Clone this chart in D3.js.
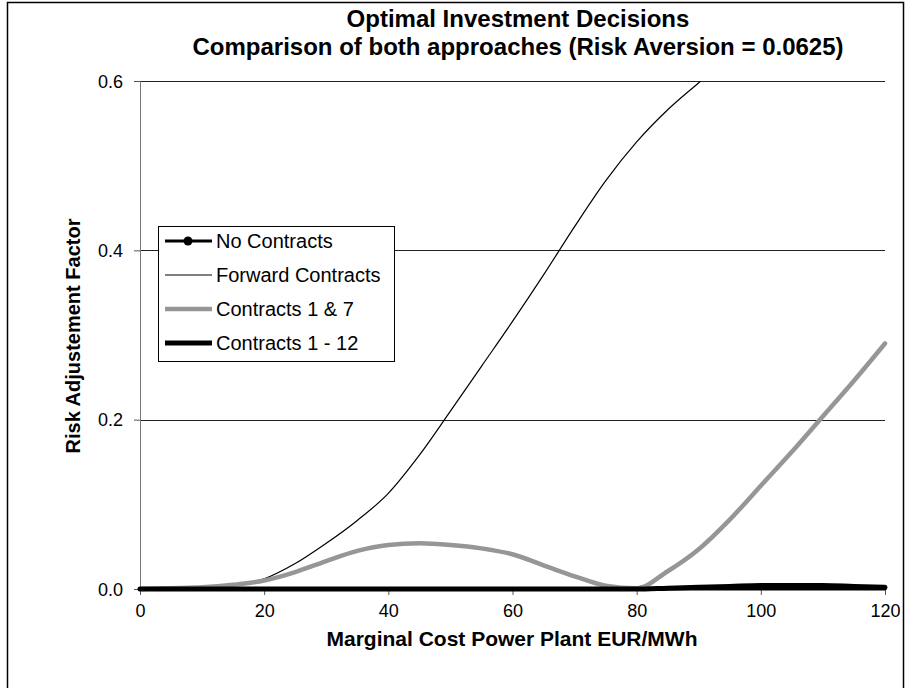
<!DOCTYPE html>
<html>
<head>
<meta charset="utf-8">
<script src="https://cdn.jsdelivr.net/npm/d3@7"></script>
<style>
body { margin: 0; background: #fff; }
text { font-family: "Liberation Sans", Arial, sans-serif; }
</style>
</head>
<body>
<svg id="chart" width="906" height="688"></svg>
<script>
// marginal cost (EUR/MWh)
var costs = [0, 5, 10, 15, 20, 25, 30, 35, 40, 45, 50, 55, 60, 65, 70, 75, 80, 85, 90, 95, 100, 105, 110, 115, 120];

var noContracts = [0, 0, 0, 0, 0, 0, 0, 0, 0, 0, 0, 0, 0, 0, 0, 0, 0, 0, 0, 0, 0, 0, 0, 0, 0];
// forward contracts leaves the chart above 0.6, only the visible part is kept
var forwardCosts = [0, 5, 10, 15, 20, 25, 30, 35, 40, 45, 50, 55, 60, 65, 70, 75, 80, 85, 90, 95];
var forward = [0, 0, 0.001, 0.004, 0.012, 0.03, 0.054, 0.081, 0.113, 0.158, 0.21, 0.263, 0.316, 0.371, 0.428, 0.482, 0.528, 0.566, 0.598, 0.63];
var contracts17 = [0, 0.001, 0.002, 0.005, 0.01, 0.02, 0.033, 0.045, 0.052, 0.054, 0.052, 0.048, 0.041, 0.028, 0.015, 0.004, 0.001, 0.021, 0.047, 0.082, 0.122, 0.162, 0.204, 0.246, 0.29];
var contracts112 = [0, 0, 0, 0, 0, 0, 0, 0, 0, 0, 0, 0, 0, 0, 0, 0, 0, 0.001, 0.002, 0.003, 0.004, 0.004, 0.004, 0.003, 0.002];

var xTicks = [0, 20, 40, 60, 80, 100, 120];
var yTicks = [0, 0.2, 0.4, 0.6];

var series = [
	{name: "No Contracts", xs: costs, ys: noContracts, color: "#000", width: 3, dot: true},
	{name: "Forward Contracts", xs: forwardCosts, ys: forward, color: "#000", width: 1.2, dot: false},
	{name: "Contracts 1 & 7", xs: costs, ys: contracts17, color: "#969696", width: 4.5, dot: false},
	{name: "Contracts 1 - 12", xs: costs, ys: contracts112, color: "#000", width: 5, dot: false}
];

var svg = d3.select("#chart");
var margin = {top: 81, right: 21, bottom: 99, left: 140};
var innerWidth = svg.attr("width") - margin.left - margin.right;
var innerHeight = svg.attr("height") - margin.top - margin.bottom;

// outer frame
svg.append("rect")
	.attr("x", 7.5).attr("y", 2.5)
	.attr("width", 896).attr("height", 700)
	.attr("fill", "none").attr("stroke", "#000").attr("stroke-width", 1.5);

var x = d3.scaleLinear().domain([0, 120]).range([0, innerWidth]);
var y = d3.scaleLinear().domain([0, 0.6]).range([innerHeight, 0]);

var g = svg.append("g")
	.attr("transform", `translate(${margin.left}, ${margin.top})`);

// gridlines
g.append("g")
	.selectAll("line")
	.data(yTicks.filter(d => d > 0))
	.enter().append("line")
	.attr("x1", 0).attr("x2", innerWidth)
	.attr("y1", d => Math.round(y(d)) + 0.5).attr("y2", d => Math.round(y(d)) + 0.5)
	.attr("stroke", "#222").attr("stroke-width", 1);

// axes
var yAxis = g.append("g")
	.call(d3.axisLeft(y).tickValues(yTicks).tickFormat(d3.format(".1f")).tickSize(6).tickPadding(11));
var xAxis = g.append("g")
	.attr("transform", "translate(0," + innerHeight + ")")
	.call(d3.axisBottom(x).tickValues(xTicks).tickSize(6).tickPadding(9));

[xAxis, yAxis].forEach(function(a) {
	a.select(".domain").attr("stroke", "#777");
	a.selectAll(".tick line").attr("stroke", "#555");
	a.selectAll(".tick text")
		.attr("fill", "#000")
		.style("font-size", "18px")
		.style("font-family", "Liberation Sans, Arial, sans-serif");
});
yAxis.selectAll(".tick text").attr("dy", "0.35em");

// clip lines to the plot area
svg.append("clipPath").attr("id", "plot-clip")
	.append("rect")
	.attr("x", -5).attr("y", 0)
	.attr("width", innerWidth + 10).attr("height", innerHeight + 10);

var line = d3.line()
	.x(d => x(d[0]))
	.y(d => y(d[1]))
	.curve(d3.curveMonotoneX);

var lines = g.append("g").attr("clip-path", "url(#plot-clip)");

series.forEach(function(s) {
	var pts = s.xs.map((c, i) => [c, s.ys[i]]);
	lines.append("path")
		.datum(pts)
		.attr("fill", "none")
		.attr("stroke", s.color)
		.attr("stroke-width", s.width)
		.attr("stroke-linejoin", "round")
		.attr("stroke-linecap", "round")
		.attr("d", line);
});

// title
var title = svg.append("text")
	.attr("text-anchor", "middle")
	.style("font-size", "24px")
	.style("font-weight", "bold");
title.append("tspan").attr("x", 518).attr("y", 27).text("Optimal Investment Decisions");
title.append("tspan").attr("x", 518).attr("y", 55).text("Comparison of both approaches (Risk Aversion = 0.0625)");

// axis titles
svg.append("text")
	.attr("x", 512).attr("y", 646)
	.attr("text-anchor", "middle")
	.style("font-size", "21px")
	.style("font-weight", "bold")
	.text("Marginal Cost Power Plant EUR/MWh");

svg.append("text")
	.attr("transform", "translate(80,336) rotate(-90)")
	.attr("text-anchor", "middle")
	.style("font-size", "20px")
	.style("font-weight", "bold")
	.text("Risk Adjustement Factor");

// legend
var legend = svg.append("g").attr("transform", "translate(158,226)");
legend.append("rect")
	.attr("x", 0.5).attr("y", 0.5)
	.attr("width", 236).attr("height", 135)
	.attr("fill", "#fff").attr("stroke", "#000").attr("stroke-width", 1);

var item = legend.selectAll("g.item")
	.data(series)
	.enter().append("g")
	.attr("class", "item")
	.attr("transform", (d, i) => "translate(0," + (15 + i * 34) + ")");

item.append("line")
	.attr("x1", 7).attr("x2", 54)
	.attr("stroke", d => d.color)
	.attr("stroke-width", d => d.width);

item.filter(d => d.dot).append("circle")
	.attr("cx", 30).attr("r", 4.5).attr("fill", "#000");

item.append("text")
	.attr("x", 58).attr("dy", "0.35em")
	.style("font-size", "20px")
	.text(d => d.name);
</script>
</body>
</html>
